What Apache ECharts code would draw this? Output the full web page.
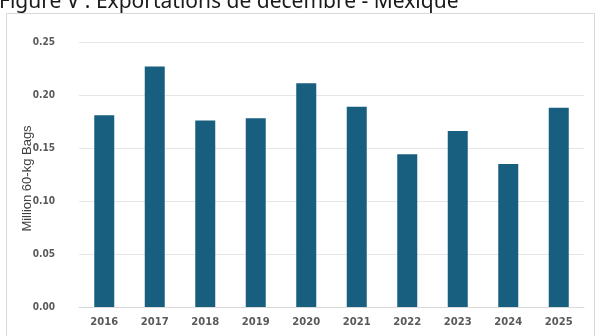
<!DOCTYPE html>
<html><head><meta charset="utf-8">
<script src="https://cdn.jsdelivr.net/npm/echarts@6/dist/echarts.min.js"></script>
<style>html,body{margin:0;padding:0;background:#fff;}#c{width:597px;height:336px;}</style>
</head><body><div id="c"></div>
<script>
const titleText = "Figure V : Exportations de décembre - Mexique";
const yAxisName = "Million 60-kg Bags";
const years = ["2016","2017","2018","2019","2020","2021","2022","2023","2024","2025"];
const exportsValues = [0.181, 0.227, 0.176, 0.178, 0.211, 0.189, 0.144, 0.166, 0.135, 0.188];

const chart = echarts.init(document.getElementById('c'), null, {renderer:'canvas'});
chart.setOption({
  animation:false,
  backgroundColor:'#fff',
  title:{text:titleText, left:-1, top:-8, padding:0,
    textStyle:{fontFamily:'Noto Sans', fontSize:21, fontWeight:'normal', color:'#1a1a1a'}},
  graphic:[{type:'rect', shape:{x:6.5,y:13.5,width:588,height:340},
    style:{fill:'none', stroke:'#d9d9d9', lineWidth:1}, z:-1}],
  grid:{left:79, right:13, top:42, bottom:29},
  xAxis:{type:'category', data:years,
    axisLine:{lineStyle:{color:'#d9d9d9'}}, axisTick:{show:false},
    axisLabel:{margin:10, fontFamily:'DejaVu Sans', fontWeight:'bold', fontSize:10, color:'#595959'}},
  yAxis:{type:'value', min:0, max:0.25, interval:0.05,
    name:yAxisName, nameLocation:'middle', nameGap:45, nameRotate:90, nameMoveOverlap:false,
    nameTextStyle:{fontFamily:'Liberation Sans', fontSize:13, color:'#404040', padding:[0,8,0,0]},
    splitLine:{lineStyle:{color:'#e6e6e6'}},
    axisLabel:{margin:24, fontFamily:'DejaVu Sans Condensed', fontWeight:'bold', fontSize:10, color:'#595959',
      formatter:v=>v.toFixed(2)}},
  series:[{type:'bar', data:exportsValues, barWidth:20,
    itemStyle:{color:'#175e7f'}}]
});
</script></body></html>
